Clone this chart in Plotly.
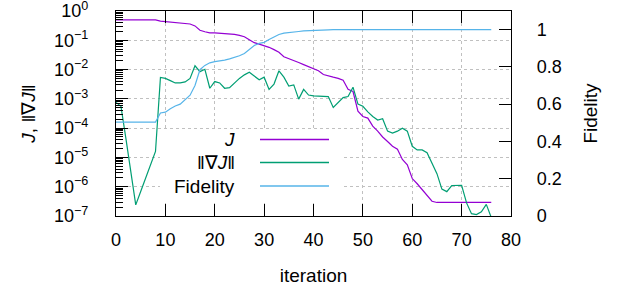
import plotly.graph_objects as go

iterations = list(range(0, 77))

J = [5.0e-1]*9 + [
    4.5e-1, 4.3e-1, 4.1e-1, 4.0e-1, 3.8e-1, 3.7e-1, 3.6e-1, 3.1e-1, 2.2e-1, 1.95e-1,
    1.8e-1, 1.78e-1, 1.74e-1, 1.7e-1, 1.64e-1, 1.58e-1, 1.48e-1, 1.32e-1, 1.05e-1, 8.3e-2,
    7.4e-2, 6.6e-2, 5.75e-2, 4.8e-2, 3.9e-2, 2.75e-2, 2.4e-2, 2.04e-2, 1.74e-2, 1.48e-2,
    1.26e-2, 1.05e-2, 9.1e-3, 6.8e-3, 6.0e-3, 5.5e-3, 5.0e-3, 4.3e-3, 2.14e-3, 1.78e-3,
    3.8e-4, 2.5e-4, 2.2e-4, 1.17e-4, 7.9e-5, 5.0e-5, 3.5e-5, 2.4e-5, 1.9e-5, 8.5e-6,
    5.6e-6, 1.9e-6, 1.26e-6, 7.9e-7, 4.7e-7, 3.2e-7] + [2.9e-7]*12

gradJ = [
    7.6e-4, 5.6e-4, 4.5e-5, 3.2e-6, 2.4e-7, 6.9e-7, 2.0e-6, 5.6e-6, 1.6e-5, 5.4e-3,
    5.0e-3, 4.2e-3, 3.5e-3, 3.5e-3, 3.8e-3, 5.0e-3, 1.35e-2, 8.5e-3, 1.02e-2, 2.3e-3,
    3.9e-3, 3.5e-3, 2.3e-3, 2.4e-3, 3.5e-3, 5.0e-3, 6.6e-3, 8.1e-3, 6.0e-3, 4.5e-3,
    5.5e-3, 2.1e-3, 3.2e-3, 9.1e-3, 5.5e-3, 2.75e-3, 3.0e-3, 9.8e-4, 2.1e-3, 1.35e-3,
    1.26e-3, 1.23e-3, 1.23e-3, 1.2e-3, 5.1e-4, 7.6e-4, 1.1e-3, 1.2e-3, 2.5e-3, 6.6e-4,
    5.6e-4, 3.6e-4, 2.5e-4, 1.9e-4, 2.1e-4, 7.9e-5, 6.8e-5, 7.9e-5, 1.0e-4, 7.9e-5,
    2.4e-5, 1.8e-5, 1.8e-5, 1.45e-5, 6.3e-6, 2.8e-6, 8.3e-7, 6.8e-7, 1.1e-6, 1.1e-6,
    1.12e-6, 2.8e-7, 1.2e-7, 1.12e-7, 1.4e-7, 2.5e-7, 8.9e-8]

fidelity = [0.504]*9 + [
    0.553, 0.557, 0.575, 0.59, 0.60, 0.622, 0.648, 0.70, 0.785, 0.808,
    0.822, 0.828, 0.831, 0.836, 0.843, 0.851, 0.86, 0.872, 0.893, 0.915,
    0.926, 0.932, 0.947, 0.962, 0.974, 0.981, 0.985, 0.988, 0.99, 0.993,
    0.995, 0.996, 0.997, 0.998, 0.999] + [1.0]*33

x_ticks = [0, 10, 20, 30, 40, 50, 60, 70, 80]
y_ticks = [1e0, 1e-1, 1e-2, 1e-3, 1e-4, 1e-5, 1e-6, 1e-7]
y_ticktext = ["10<sup>0</sup>"] + ["10<sup>\u2212%d</sup>" % k for k in range(1, 8)]
y_minor = [m * 10.0**(-k) for k in range(1, 8) for m in range(2, 10)]
y2_ticks = [0, 0.2, 0.4, 0.6, 0.8, 1]
y2_ticktext = ["0", "0.2", "0.4", "0.6", "0.8", "1"]

legend_labels = ["<i>J</i>", "\u2016\u2207<i>J</i>\u2016", "Fidelity"]
colors = ["#9400D3", "#009E73", "#56B4E9"]

FONT = "Liberation Sans"
W, H = 618, 292
L, R, T, B = 116, 107, 11, 76

fig = go.Figure()
fig.add_trace(go.Scatter(x=iterations, y=J, mode="lines",
                         line=dict(color=colors[0], width=1.2), yaxis="y"))
fig.add_trace(go.Scatter(x=iterations, y=gradJ, mode="lines",
                         line=dict(color=colors[1], width=1.2), yaxis="y"))
fig.add_trace(go.Scatter(x=iterations, y=fidelity, mode="lines",
                         line=dict(color=colors[2], width=1.2), yaxis="y2"))

pw = W - L - R
ph = H - T - B
def px(xp):
    return (xp - L) / pw
def py(yp):
    return (H - B - yp) / ph

shapes = [dict(type="rect", xref="paper", yref="paper",
               x0=px(160), x1=px(343), y0=py(201), y1=py(131),
               fillcolor="white", line=dict(width=0), layer="above")]
annotations = []
rows_y = [139.5, 162.5, 186]
for lab, c, ry in zip(legend_labels, colors, rows_y):
    shapes.append(dict(type="line", xref="paper", yref="paper",
                       x0=px(260), x1=px(329), y0=py(ry), y1=py(ry),
                       line=dict(color=c, width=1.3), layer="above"))
    annotations.append(dict(x=px(237), y=py(ry), xref="paper", yref="paper",
                            text=lab, showarrow=False, xanchor="right",
                            yanchor="middle", font=dict(size=19, color="black", family=FONT)))

fig.update_layout(
    width=W, height=H,
    margin=dict(l=L, r=R, t=T, b=B, autoexpand=False),
    paper_bgcolor="white", plot_bgcolor="white",
    showlegend=False,
    font=dict(family=FONT, size=18, color="black"),
    shapes=shapes, annotations=annotations,
    xaxis=dict(range=[0, 80], tickvals=x_ticks, ticks="inside", ticklen=12,
               tickcolor="black", showline=True, linecolor="black", linewidth=1.2,
               mirror="ticks", showgrid=True, gridcolor="#c0c0c0", griddash="dot",
               gridwidth=1, zeroline=False, ticklabelstandoff=7, automargin=False,
               tickfont=dict(family=FONT, size=18),
               title=dict(text="iteration", standoff=19, font=dict(family=FONT, size=19))),
    yaxis=dict(type="log", range=[-7, 0], tickvals=y_ticks, ticktext=y_ticktext,
               ticks="inside", ticklen=12, tickcolor="black",
               showline=True, linecolor="black", linewidth=1.2, mirror=True,
               showgrid=True, gridcolor="#c0c0c0", griddash="dot", gridwidth=1,
               zeroline=False, ticklabelstandoff=23, ticklabeloverflow="allow",
               automargin=False,
               tickfont=dict(family=FONT, size=18),
               minor=dict(tickvals=y_minor, ticks="inside", ticklen=7,
                          tickcolor="black", showgrid=False),
               title=dict(text="<i>J</i>, \u2016\u2207<i>J</i>\u2016", standoff=13,
                          font=dict(family=FONT, size=19))),
    yaxis2=dict(overlaying="y", side="right", range=[0, 1.1],
                tickvals=y2_ticks, ticktext=y2_ticktext, ticks="inside", ticklen=12,
                tickcolor="black", showline=True, linecolor="black", linewidth=1.2,
                showgrid=False, zeroline=False, ticklabelstandoff=21,
                ticklabeloverflow="allow", automargin=False,
                tickfont=dict(family=FONT, size=18),
                title=dict(text="Fidelity", standoff=22, font=dict(family=FONT, size=19))),
)

fig.write_html("out.html", config={"displayModeBar": False},
               post_script="document.body.style.margin='0px';")
